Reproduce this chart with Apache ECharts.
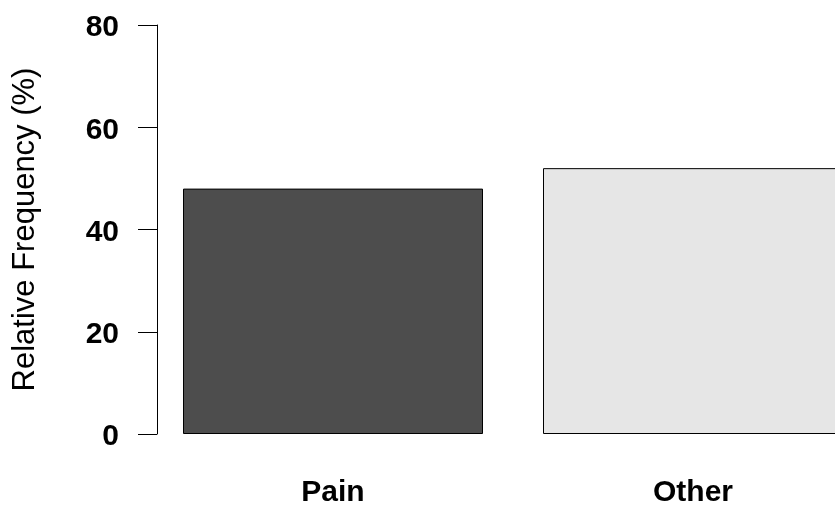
<!DOCTYPE html>
<html>
<head>
<meta charset="utf-8">
<script src="https://cdn.jsdelivr.net/npm/echarts@6/dist/echarts.min.js"></script>
<style>
html,body{margin:0;padding:0;background:#fff;}
#chart{width:835px;height:505px;}
</style>
</head>
<body>
<div id="chart"></div>
<script>
const categories = ['Pain', 'Other'];
const values = [48, 52];
const barColors = ['#4D4D4D', '#E6E6E6'];
const yTicks = [0, 20, 40, 60, 80];

const chart = echarts.init(document.getElementById('chart'), null, {renderer: 'canvas'});
const font = 'Liberation Sans, Arial, Helvetica, sans-serif';
chart.setOption({
  animation: false,
  backgroundColor: '#ffffff',
  grid: {left: 153, top: 25, width: 720, height: 409, containLabel: false, outerBoundsMode: 'none'},
  xAxis: {
    type: 'category',
    data: categories,
    axisLine: {show: false},
    axisTick: {show: false},
    axisLabel: {color: '#000', fontFamily: font, fontWeight: 'bold', fontSize: 30, margin: 44}
  },
  yAxis: {
    type: 'value',
    min: yTicks[0],
    max: yTicks[yTicks.length - 1],
    interval: 20,
    offset: -4,
    name: 'Relative Frequency (%)',
    nameLocation: 'middle',
    nameRotate: 90,
    nameGap: 116,
    nameTextStyle: {color: '#000', fontFamily: font, fontSize: 31},
    splitLine: {show: false},
    axisLine: {show: true, lineStyle: {color: '#000', width: 1}},
    axisTick: {show: true, length: 19, lineStyle: {color: '#000', width: 1}},
    axisLabel: {
      color: '#000', fontFamily: font, fontWeight: 'bold', fontSize: 30, margin: 38,
      formatter: function (v) { return '{t|' + v + '}'; },
      rich: {t: {color: '#000', fontFamily: font, fontWeight: 'bold', fontSize: 30, padding: [6, 0, 0, 0]}}
    }
  },
  series: [{
    type: 'bar',
    barWidth: 300,
    data: values.map((v, i) => ({value: v, itemStyle: {color: barColors[i]}})),
    itemStyle: {borderColor: '#000', borderWidth: 1}
  }]
});
</script>
</body>
</html>
